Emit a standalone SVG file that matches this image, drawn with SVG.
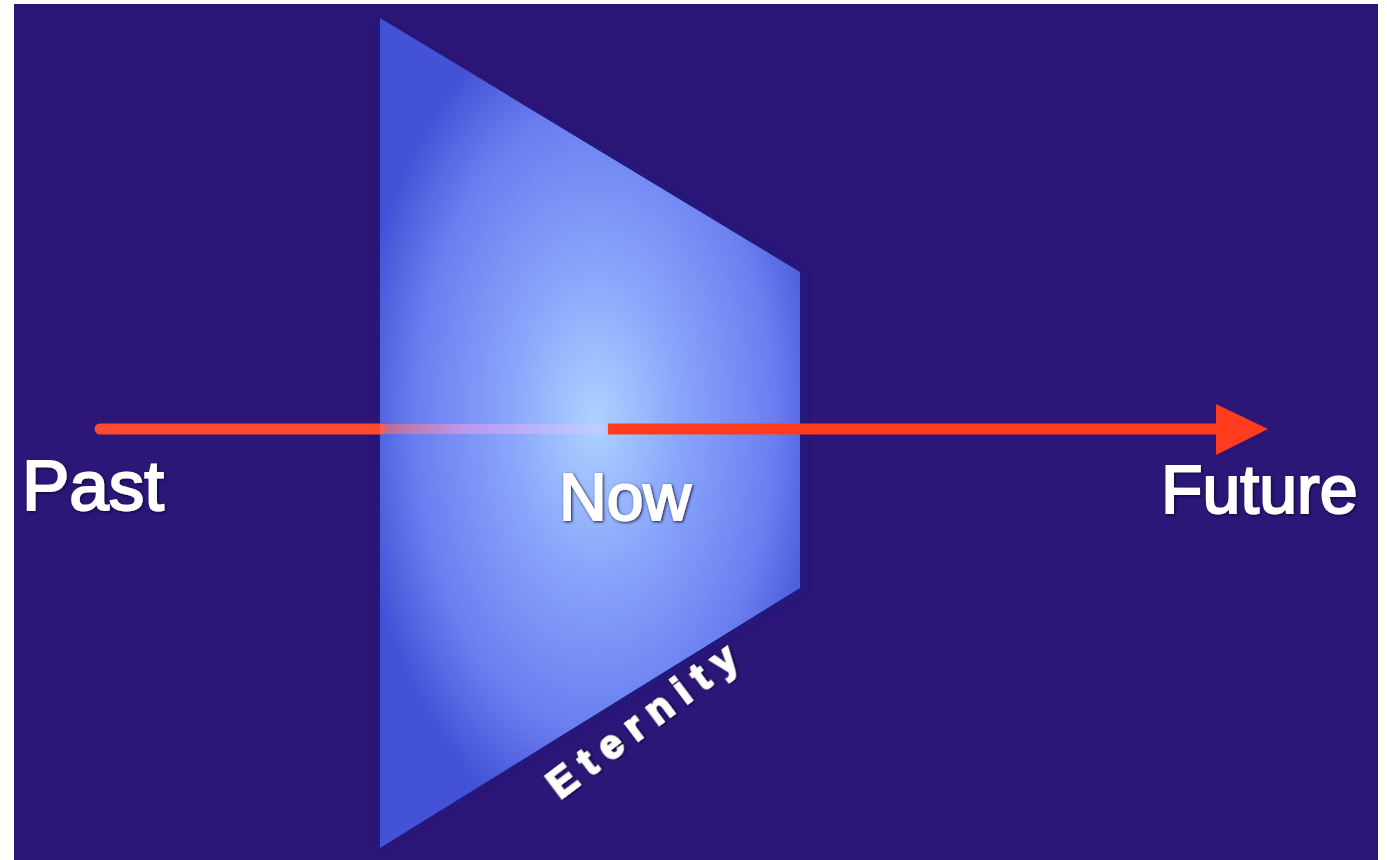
<svg xmlns="http://www.w3.org/2000/svg" width="1387" height="860" viewBox="0 0 1387 860">
<defs>
<radialGradient id="pg" gradientUnits="userSpaceOnUse" cx="595" cy="420" r="320" gradientTransform="translate(595 420) scale(0.75 1.3) translate(-595 -420)">
<stop offset="0" stop-color="#aed2ff"/>
<stop offset="0.35" stop-color="#8aa6fb"/>
<stop offset="0.75" stop-color="#6a7ef0"/>
<stop offset="1" stop-color="#4352d6"/>
</radialGradient>
<linearGradient id="fade" x1="380" y1="0" x2="600" y2="0" gradientUnits="userSpaceOnUse">
<stop offset="0" stop-color="#ff6a5a" stop-opacity="0.6"/>
<stop offset="0.4" stop-color="#d69cf0" stop-opacity="0.7"/>
<stop offset="1" stop-color="#e8c8ff" stop-opacity="0.3"/>
</linearGradient>
<filter id="blur" x="-10%" y="-10%" width="120%" height="120%"><feGaussianBlur stdDeviation="3"/></filter>
<filter id="tshadow" x="-10%" y="-20%" width="120%" height="140%"><feDropShadow dx="1" dy="1" stdDeviation="1.5" flood-color="#0a0630" flood-opacity="0.9"/></filter>
</defs>
<style>
.lbl{font-family:"Liberation Sans",Arial,sans-serif;fill:#ffffff;stroke:#ffffff;stroke-width:2;filter:url(#tshadow)}
</style>
<rect x="0" y="0" width="1387" height="860" fill="#ffffff"/>
<rect x="14" y="4" width="1364" height="856" fill="#2c1677"/>
<g id="panel">
<polygon points="378,20 805,272 805,590 378,850" fill="#1a1a80" filter="url(#blur)" opacity="0.8"/>
<polygon points="380,18 800,272 800,588 380,848" fill="url(#pg)"/>
</g>
<g id="connectors">
<line x1="100" y1="429" x2="380" y2="429" stroke="#ff4a30" stroke-width="11" stroke-linecap="round"/>
<line x1="380" y1="429" x2="605" y2="429" stroke="url(#fade)" stroke-width="10"/>
<line x1="608" y1="429" x2="1222" y2="429" stroke="#ff3d1e" stroke-width="11"/>
<polygon points="1216,404 1268,429 1216,455" fill="#ff3d1e"/>
</g>
<g id="past"><text class="lbl" x="22" y="510" font-size="71">Past</text></g>
<g id="now"><text class="lbl" x="559" y="520" font-size="66">Now</text></g>
<g id="future"><text class="lbl" x="1161" y="513" font-size="68">Future</text></g>
<g id="eternity"><text class="lbl" font-size="40" font-weight="bold" stroke-width="0.5" letter-spacing="11" transform="translate(560 800) rotate(-37)">Eternity</text></g>
</svg>
